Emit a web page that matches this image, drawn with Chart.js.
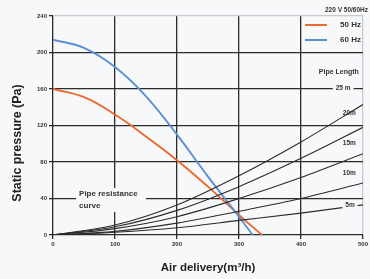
<!DOCTYPE html>
<html>
<head>
<meta charset="UTF-8">
<title>Fan curve</title>
<script src="https://cdn.jsdelivr.net/npm/chart.js"></script>
<style>
    html, body { margin: 0; padding: 0; background: #f6f8fa; overflow: hidden; }
    canvas { display: block; }
</style>
</head>
<body>
<canvas id="grafico" width="370" height="279"></canvas>
<script>
    // data
    const flowX = [0, 100, 200, 300, 400, 500];
    const pipe5m = [0, 3, 8, 16, 24, 33];
    const pipe10m = [0, 4, 13, 26, 40, 57];
    const pipe15m = [0, 7, 20, 40, 63, 89];
    const pipe20m = [0, 9, 27, 53, 84, 118];
    const pipe25m = [0, 11, 33, 65, 102, 143];

    const fan50X = [0, 50, 100, 150, 200, 250, 300, 337];
    const fan50 = [160, 151, 132, 108, 82, 53, 22, 0];
    const fan60X = [0, 50, 100, 150, 200, 250, 300, 322];
    const fan60 = [214, 205, 184, 152, 110, 64, 20, 0];

    const xTicks = [0, 100, 200, 300, 400, 500];
    const yTicks = [0, 40, 80, 120, 160, 200, 240];

    const pipeLabels = ['25 m', '20m', '15m', '10m', '5m'];
    const pipeLabelX = [468, 478, 478, 478, 479];
    const pipeLabelY = [161, 133, 101, 68, 33];

    const dark = '#2b2b2b';
    const naranja = '#ea6a2e';
    const azul = '#5b8fd3';

    function puntos(xs, ys) {
        return xs.map((x, i) => ({ x: x, y: ys[i] }));
    }

    function curvaTubo(ys) {
        return {
            data: puntos(flowX, ys), borderColor: dark, borderWidth: 1.1,
            pointRadius: 0, cubicInterpolationMode: 'monotone', fill: false
        };
    }

    const fondo = {
        id: 'fondo',
        beforeDraw(chart) {
            const c = chart.ctx;
            c.save();
            c.fillStyle = '#f6f8fa';
            c.fillRect(0, 0, chart.width, chart.height);
            c.restore();
        }
    };

    const etiquetas = {
        id: 'etiquetas',
        afterDatasetsDraw(chart) {
            const c = chart.ctx;
            const xs = chart.scales.x, ys = chart.scales.y;
            c.save();
            c.textBaseline = 'middle';
            c.fillStyle = '#333';

            // Pipe resistance curve label (covers the 40 line)
            c.font = 'bold 8px "Liberation Sans", Arial, sans-serif';
            let px = xs.getPixelForValue(42), py = ys.getPixelForValue(45);
            c.fillStyle = '#f6f8fa';
            c.fillRect(px - 3, py - 6, 70, 24);
            c.fillStyle = '#333';
            c.textAlign = 'left';
            c.fillText('Pipe resistance', px, py);
            c.fillText('curve', px, py + 12);

            // Pipe Length
            c.font = 'bold 7px "Liberation Sans", Arial, sans-serif';
            c.textAlign = 'center';
            c.fillText('Pipe Length', xs.getPixelForValue(461), ys.getPixelForValue(179));

            c.font = 'bold 6.5px "Liberation Sans", Arial, sans-serif';
            pipeLabels.forEach((t, i) => {
                const lx = xs.getPixelForValue(pipeLabelX[i]);
                const ly = ys.getPixelForValue(pipeLabelY[i]);
                const w = c.measureText(t).width;
                if (i === 0 || i === 4) {
                    c.fillStyle = '#f6f8fa';
                    c.fillRect(lx - w / 2 - 3, ly - 4, w + 6, 8);
                }
                c.fillStyle = '#333';
                c.fillText(t, lx, ly);
            });

            // legend
            c.font = 'bold 6.5px "Liberation Sans", Arial, sans-serif';
            c.textAlign = 'right';
            c.fillText('220 V 50/60Hz', 368, 10);
            c.font = 'bold 8px "Liberation Sans", Arial, sans-serif';
            c.fillText('50 Hz', 361, 25);
            c.fillText('60 Hz', 361, 40);
            c.lineWidth = 2;
            c.strokeStyle = naranja;
            c.beginPath(); c.moveTo(305, 25); c.lineTo(327, 25); c.stroke();
            c.strokeStyle = azul;
            c.beginPath(); c.moveTo(305, 40); c.lineTo(327, 40); c.stroke();

            // y title
            c.translate(18, 143);
            c.rotate(-Math.PI / 2);
            c.textAlign = 'center';
            c.fillStyle = '#222';
            c.font = 'bold 12.5px "Liberation Sans", Arial, sans-serif';
            c.fillText('Static pressure (Pa)', 0, 0);
            c.restore();
        }
    };

    new Chart(document.getElementById('grafico'), {
        type: 'line',
        data: {
            datasets: [
                curvaTubo(pipe5m), curvaTubo(pipe10m), curvaTubo(pipe15m),
                curvaTubo(pipe20m), curvaTubo(pipe25m),
                { label: '60 Hz', data: puntos(fan60X, fan60), borderColor: azul, borderWidth: 1.9,
                  pointRadius: 0, tension: 0.4 },
                { label: '50 Hz', data: puntos(fan50X, fan50), borderColor: naranja, borderWidth: 1.9,
                  pointRadius: 0, tension: 0.4 }
            ]
        },
        options: {
            responsive: false,
            animation: false,
            devicePixelRatio: 1,
            layout: { padding: { top: 16, right: 3, left: 0, bottom: 0 } },
            plugins: { legend: { display: false }, tooltip: { enabled: false } },
            scales: {
                x: {
                    type: 'linear', min: 0, max: 500,
                    afterBuildTicks: s => { s.ticks = xTicks.map(v => ({ value: v })); },
                    afterFit: s => { s.height = 44; },
                    border: { display: false },
                    grid: {
                        color: ctx => ctx.tick && ctx.tick.value === 500 ? '#c8ccd0' : dark,
                        lineWidth: 1.3, tickLength: 4, tickColor: dark
                    },
                    ticks: { color: '#333', padding: 2, font: { size: 6, weight: 'bold', family: '"Liberation Sans", Arial' } },
                    title: {
                        display: true, text: 'Air delivery(m³/h)', color: '#222',
                        font: { size: 11.5, weight: 'bold', family: '"Liberation Sans", Arial' },
                        padding: { top: 10 }
                    }
                },
                y: {
                    type: 'linear', min: 0, max: 240,
                    afterBuildTicks: s => { s.ticks = yTicks.map(v => ({ value: v })); },
                    afterFit: s => { s.width = 53; },
                    border: { display: false },
                    grid: {
                        color: ctx => ctx.tick && ctx.tick.value === 240 ? '#c8ccd0' : dark,
                        lineWidth: 1.3, tickLength: 4, tickColor: dark
                    },
                    ticks: { color: '#333', padding: 2, font: { size: 6, weight: 'bold', family: '"Liberation Sans", Arial' } }
                }
            }
        },
        plugins: [fondo, etiquetas]
    });
</script>
</body>
</html>
